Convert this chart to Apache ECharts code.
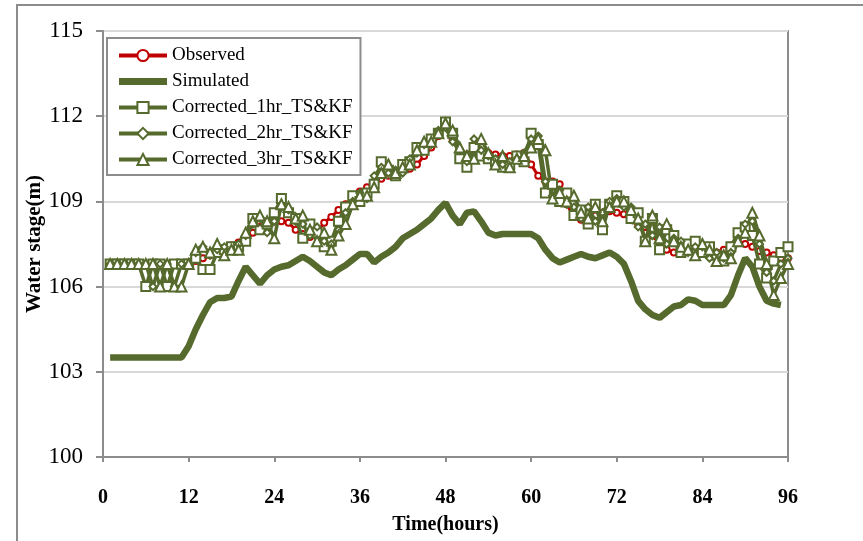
<!DOCTYPE html>
<html>
<head>
<meta charset="utf-8">
<script src="https://cdn.jsdelivr.net/npm/echarts@6/dist/echarts.min.js"></script>
<style>
html,body{margin:0;padding:0;background:#fff;}
#chart{width:863px;height:541px;}
</style>
</head>
<body>
<div id="chart"></div>
<script>
var hours = [];
for (var h = 1; h <= 96; h++) hours.push(h);

var xTicks = [0, 12, 24, 36, 48, 60, 72, 84, 96];
var yTicks = [100, 103, 106, 109, 112, 115];

var observed = [
106.8,106.8,106.8,106.8,106.8,106.8,106.8,106.8,106.8,106.8,
106.8,106.85,106.9,107.0,107.1,107.2,107.3,107.45,107.55,107.6,
107.9,108.1,108.25,108.3,108.3,108.25,108.0,107.85,107.75,107.9,
108.25,108.45,108.7,108.9,109.1,109.35,109.5,109.65,109.8,109.9,
110.0,110.05,110.15,110.3,110.6,110.9,111.3,111.7,111.2,110.8,
110.65,110.7,110.75,110.7,110.65,110.6,110.6,110.65,110.7,110.3,
109.9,109.7,109.7,109.6,108.9,108.45,108.35,108.4,108.5,108.6,
108.65,108.6,108.55,108.4,108.2,108.1,107.8,107.5,107.3,107.2,
107.2,107.35,107.4,107.3,107.25,107.2,107.3,107.45,107.55,107.5,
107.4,107.25,107.2,107.1,107.0,107.0
];

var simulated = [
103.5,103.5,103.5,103.5,103.5,103.5,103.5,103.5,103.5,103.5,
103.5,103.9,104.5,105.0,105.45,105.6,105.6,105.65,106.2,106.7,
106.4,106.1,106.4,106.6,106.7,106.75,106.9,107.05,106.9,106.7,
106.5,106.4,106.6,106.75,106.95,107.15,107.15,106.85,107.05,107.2,
107.4,107.7,107.85,108.0,108.2,108.4,108.7,108.95,108.5,108.2,
108.6,108.65,108.3,107.9,107.8,107.85,107.85,107.85,107.85,107.85,
107.7,107.3,107.0,106.85,106.95,107.05,107.15,107.05,107.0,107.1,
107.2,107.05,106.8,106.2,105.5,105.2,105.0,104.9,105.1,105.3,
105.35,105.55,105.5,105.35,105.35,105.35,105.35,105.7,106.4,107.0,
106.7,106.0,105.5,105.4,105.35,null
];

var corrected1 = [
106.8,106.8,106.8,106.8,106.8,106.0,106.8,106.8,106.0,106.8,
106.8,106.8,107.0,106.6,106.6,107.2,107.3,107.4,107.4,107.6,
108.4,108.0,108.2,108.6,109.1,108.6,108.4,107.7,108.2,107.9,
107.4,107.6,108.3,108.8,109.2,109.0,109.3,109.6,110.4,110.1,
109.9,110.3,110.4,110.9,110.8,111.2,111.4,111.8,111.4,110.5,
110.2,110.9,110.6,110.5,110.4,110.2,110.3,110.6,110.4,111.4,
111.0,109.3,109.6,109.0,109.3,108.5,108.7,108.2,108.9,108.0,
108.9,109.2,109.0,108.4,108.6,107.6,108.4,107.3,108.0,107.8,
107.2,107.5,107.6,107.2,107.4,107.1,106.9,107.4,107.9,108.1,
107.8,106.8,106.3,106.9,107.2,107.4
];

var corrected2 = [
106.8,106.8,106.8,106.8,106.8,106.8,106.0,106.8,106.8,106.0,
106.8,106.8,107.2,107.4,107.1,107.3,107.4,107.3,107.5,107.8,
108.2,108.4,107.9,108.3,108.8,108.7,108.3,108.2,107.8,108.1,
107.6,107.5,108.0,108.6,109.0,109.3,109.1,109.9,110.2,110.0,
110.1,110.0,110.5,110.7,111.0,111.0,111.5,111.6,111.1,110.8,
110.4,111.2,110.8,110.6,110.5,110.3,110.4,110.5,110.7,111.2,
111.3,109.7,109.2,109.4,108.9,108.8,108.4,108.8,108.3,108.6,
109.0,109.1,108.8,108.8,108.1,108.2,107.8,108.1,107.5,107.7,
107.6,107.2,107.4,107.4,107.0,107.2,107.0,107.2,107.7,108.2,
108.3,107.5,106.5,106.2,106.8,107.0
];

var corrected3 = [
106.8,106.8,106.8,106.8,106.8,106.8,106.8,106.0,106.8,106.0,
106.0,106.8,107.3,107.4,107.2,107.5,107.1,107.3,107.3,107.9,
108.3,108.5,108.3,107.7,108.9,108.8,108.4,108.5,108.0,107.6,
107.9,107.3,107.8,108.2,108.9,109.2,109.2,109.5,110.0,110.3,
110.0,110.2,110.3,110.8,111.1,111.1,111.4,111.75,111.5,110.9,
110.6,110.5,111.2,110.7,110.3,110.6,110.2,110.5,110.6,110.9,
111.2,110.8,109.1,109.3,109.0,109.2,108.6,108.4,108.8,108.3,
108.8,109.0,109.0,108.7,108.4,107.6,108.5,107.7,108.2,107.6,
107.4,107.3,107.1,107.5,107.3,106.9,107.1,107.0,107.6,107.9,
108.6,107.8,106.8,105.7,106.3,106.8
];

function pairs(arr) {
  var out = [];
  for (var i = 0; i < hours.length; i++) {
    if (arr[i] !== null && arr[i] !== undefined) out.push([hours[i], arr[i]]);
  }
  return out;
}

var GREEN = '#556a2c';
var RED = '#c00000';
var SERIF = '"Liberation Serif", "DejaVu Serif", serif';

var chart = echarts.init(document.getElementById('chart'), null, {renderer: 'canvas'});
chart.setOption({
  backgroundColor: '#ffffff',
  animation: false,
  graphic: [{
    type: 'rect',
    shape: {x: 17, y: 5, width: 900, height: 600},
    style: {fill: 'none', stroke: '#8c8c8c', lineWidth: 2},
    z: -10
  }],
  grid: {
    left: 103, right: 75, top: 31, bottom: 84,
    show: true, borderColor: '#8c8c8c', borderWidth: 2, backgroundColor: 'transparent'
  },
  legend: {
    orient: 'vertical',
    left: 107, top: 38,
    padding: [8, 8, 6, 10],
    borderColor: '#8c8c8c', borderWidth: 2,
    backgroundColor: '#ffffff',
    itemWidth: 48, itemHeight: 14, itemGap: 7,
    textStyle: {fontFamily: SERIF, fontSize: 19, color: '#000'},
    data: [
      {name: 'Observed', lineStyle: {width: 4}},
      {name: 'Simulated', icon: 'path://M0,0 L48,0 L48,7 L0,7 Z', itemStyle: {color: GREEN, borderWidth: 0}},
      {name: 'Corrected_1hr_TS&KF', lineStyle: {width: 4}},
      {name: 'Corrected_2hr_TS&KF', lineStyle: {width: 4}},
      {name: 'Corrected_3hr_TS&KF', lineStyle: {width: 4}}
    ]
  },
  xAxis: {
    type: 'value', min: xTicks[0], max: xTicks[xTicks.length - 1], interval: 12,
    name: 'Time(hours)', nameLocation: 'middle', nameGap: 58,
    nameTextStyle: {fontFamily: SERIF, fontSize: 20, fontWeight: 'bold', color: '#000'},
    axisLine: {show: true, lineStyle: {color: '#8c8c8c', width: 2}},
    axisTick: {show: true, length: 5, lineStyle: {color: '#8c8c8c', width: 2}},
    axisLabel: {fontFamily: SERIF, fontSize: 20, fontWeight: 'bold', color: '#000', margin: 31},
    splitLine: {show: false}
  },
  yAxis: {
    type: 'value', min: yTicks[0], max: yTicks[yTicks.length - 1], interval: 3,
    name: 'Water stage(m)', nameLocation: 'middle', nameGap: 58, nameRotate: 90,
    nameMoveOverlap: false,
    nameTextStyle: {fontFamily: SERIF, fontSize: 21, fontWeight: 'bold', color: '#000'},
    axisLine: {show: true, lineStyle: {color: '#8c8c8c', width: 2}},
    axisTick: {show: true, length: 7, lineStyle: {color: '#8c8c8c', width: 2}},
    axisLabel: {fontFamily: SERIF, fontSize: 23, color: '#000', margin: 20},
    splitLine: {show: true, lineStyle: {color: '#d9d9d9', width: 2}}
  },
  series: [
    {
      name: 'Observed', type: 'line', data: pairs(observed), z: 2,
      lineStyle: {color: RED, width: 3},
      symbol: 'circle', symbolSize: 6, showAllSymbol: true,
      itemStyle: {color: '#ffffff', borderColor: RED, borderWidth: 2}
    },
    {
      name: 'Simulated', type: 'line', data: pairs(simulated), z: 3,
      lineStyle: {color: GREEN, width: 6.5},
      symbol: 'none', itemStyle: {color: GREEN}
    },
    {
      name: 'Corrected_1hr_TS&KF', type: 'line', data: pairs(corrected1), z: 4,
      lineStyle: {color: GREEN, width: 3.5},
      symbol: 'rect', symbolSize: 9, showAllSymbol: true,
      itemStyle: {color: '#ffffff', borderColor: GREEN, borderWidth: 2}
    },
    {
      name: 'Corrected_2hr_TS&KF', type: 'line', data: pairs(corrected2), z: 4,
      lineStyle: {color: GREEN, width: 3.5},
      symbol: 'diamond', symbolSize: 7, showAllSymbol: true,
      itemStyle: {color: '#ffffff', borderColor: GREEN, borderWidth: 2}
    },
    {
      name: 'Corrected_3hr_TS&KF', type: 'line', data: pairs(corrected3), z: 4,
      lineStyle: {color: GREEN, width: 3.5},
      symbol: 'triangle', symbolSize: 10, showAllSymbol: true,
      itemStyle: {color: '#ffffff', borderColor: GREEN, borderWidth: 2}
    }
  ]
});
</script>
</body>
</html>
